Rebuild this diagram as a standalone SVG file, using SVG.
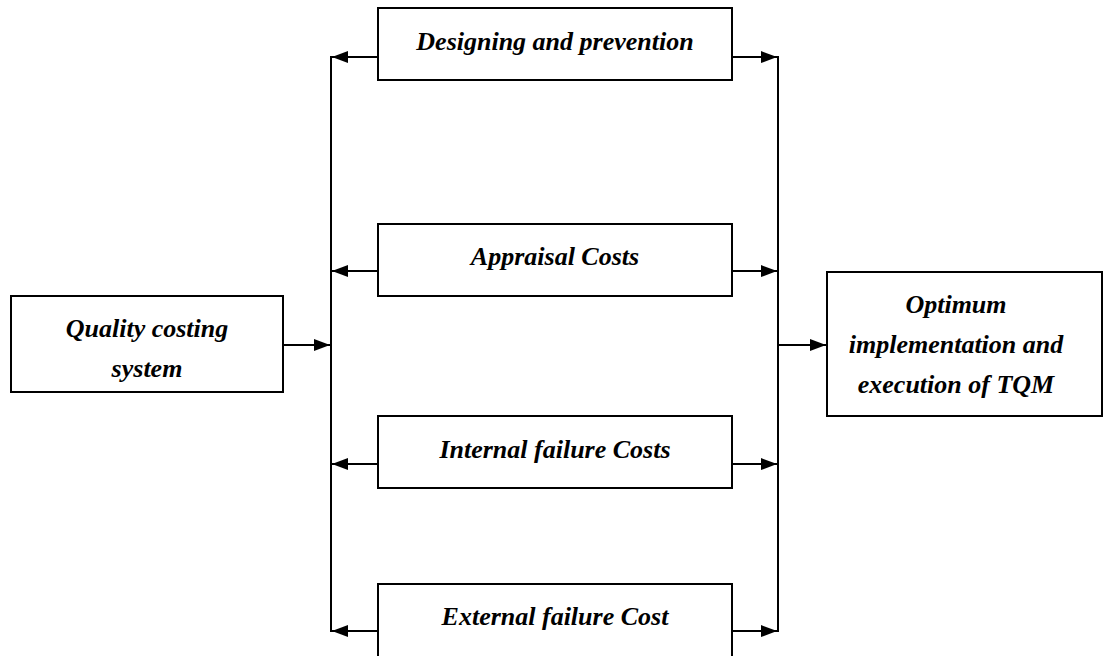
<svg xmlns="http://www.w3.org/2000/svg" width="1104" height="656" viewBox="0 0 1104 656">
<defs>
<marker id="ah" viewBox="0 0 16 12" refX="16" refY="6" markerWidth="16" markerHeight="12" markerUnits="userSpaceOnUse" orient="auto">
<path d="M0,0 L16,6 L0,12 Z" fill="#000"/>
</marker>
<style>
.box{fill:#fff;stroke:#000;stroke-width:2}
.t{font-family:"Liberation Serif","Times New Roman",serif;font-weight:bold;font-style:italic;font-size:26px;fill:#000;text-anchor:middle}
.ln{stroke:#000;stroke-width:2;fill:none}
.ar{stroke:#000;stroke-width:2;fill:none;marker-end:url(#ah)}
</style>
</defs>
<rect width="1104" height="656" fill="#fff"/>
<g id="connectors">
<line class="ln" x1="331" y1="56" x2="331" y2="632"/>
<line class="ln" x1="778" y1="56" x2="778" y2="632"/>
<line class="ar" x1="378" y1="57" x2="332" y2="57"/>
<line class="ar" x1="378" y1="271" x2="332" y2="271"/>
<line class="ar" x1="378" y1="464" x2="332" y2="464"/>
<line class="ar" x1="378" y1="631" x2="332" y2="631"/>
<line class="ar" x1="732" y1="57" x2="777" y2="57"/>
<line class="ar" x1="732" y1="271" x2="777" y2="271"/>
<line class="ar" x1="732" y1="464" x2="777" y2="464"/>
<line class="ar" x1="732" y1="631" x2="777" y2="631"/>
<line class="ar" x1="283" y1="345" x2="330" y2="345"/>
<line class="ar" x1="779" y1="345" x2="826" y2="345"/>
</g>
<g id="designing">
<rect class="box" x="378" y="8" width="354" height="72"/>
<text class="t" x="555" y="50">Designing and prevention</text>
</g>
<g id="appraisal">
<rect class="box" x="378" y="224" width="354" height="72"/>
<text class="t" x="555" y="265">Appraisal Costs</text>
</g>
<g id="internal">
<rect class="box" x="378" y="416" width="354" height="72"/>
<text class="t" x="555" y="458">Internal failure Costs</text>
</g>
<g id="external">
<rect class="box" x="378" y="584" width="354" height="80"/>
<text class="t" x="555" y="625">External failure Cost</text>
</g>
<g id="quality">
<rect class="box" x="11" y="296" width="272" height="96"/>
<text class="t" x="147" y="337">Quality costing</text>
<text class="t" x="147" y="377">system</text>
</g>
<g id="tqm">
<rect class="box" x="827" y="272" width="275" height="144"/>
<text class="t" x="956" y="313">Optimum</text>
<text class="t" x="956" y="353">implementation and</text>
<text class="t" x="956" y="393">execution of TQM</text>
</g>
</svg>
